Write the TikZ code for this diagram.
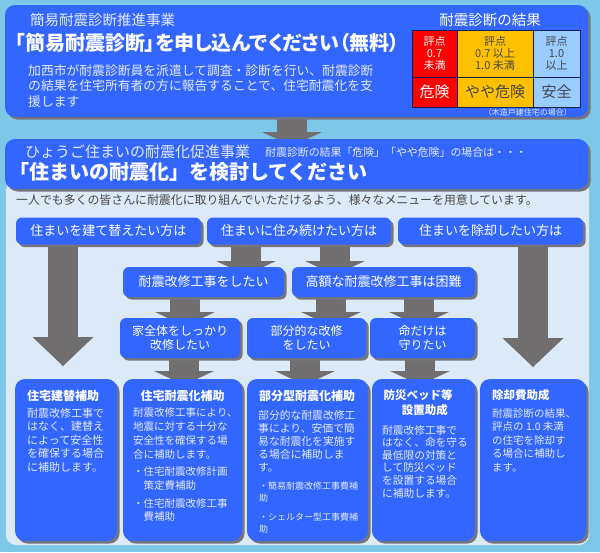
\documentclass[tikz,border=0pt]{standalone}
\usepackage{fontspec}
\setmainfont{Noto Sans CJK JP}
\usepackage{xcolor}
\usepackage{tikz}
\usetikzlibrary{arrows.meta,shadows}

\definecolor{skybg}{RGB}{125,200,232}
\definecolor{panelbg}{RGB}{220,233,246}
\definecolor{boxblue}{RGB}{51,102,255}
\definecolor{softwhite}{RGB}{228,234,255}
\definecolor{arrowgray}{RGB}{112,110,110}
\definecolor{shadegray}{RGB}{118,118,124}
\definecolor{dangerred}{RGB}{255,0,0}
\definecolor{cautionyel}{RGB}{255,192,0}
\definecolor{safeblue}{RGB}{153,204,255}
\definecolor{inktext}{RGB}{72,72,72}
\definecolor{cellline}{RGB}{20,30,80}

\newcommand{\jsize}[2]{\fontsize{#1}{#2}\selectfont}

\pgfdeclarelayer{bg}
\pgfdeclarelayer{flow}
\pgfsetlayers{bg,flow,main}

\begin{document}
\begin{tikzpicture}[x=1pt,y=-1pt,
    bluebox/.style={fill=boxblue, rounded corners=10pt, inner sep=0pt,
      drop shadow={shadow xshift=2.5pt, shadow yshift=-2.5pt, fill=shadegray, opacity=1}},
    choice/.style={bluebox, rounded corners=6pt, text=white, align=center, font=\jsize{13}{15}},
    aidbox/.style={bluebox, minimum height=162pt},
    cell/.style={draw=cellline, line width=0.8pt, inner sep=0pt, align=center},
    flowarrow/.style={draw=arrowgray, line width=30pt, -{Triangle[width=60pt, length=14pt, line width=0pt]}},
    bigarrow/.style={flowarrow, -{Triangle[width=61pt, length=29pt, line width=0pt]}},
    aidtitle/.style={text=white, inner sep=0pt, font=\bfseries\jsize{12}{15}},
    aidtext/.style={text=softwhite, inner sep=0pt, align=left, anchor=west}]

  \useasboundingbox (0,0) rectangle (600,552);

  % Backgrounds
  \begin{pgfonlayer}{bg}
    \fill[skybg] (0,0) rectangle (600,552);
    \fill[panelbg, rounded corners=10pt] (6,180) rectangle (589,545);
  \end{pgfonlayer}

  % Simple seismic diagnosis
  \node[bluebox, minimum width=583pt, minimum height=112pt] (diag) at (296.5,61) {};
  \node[anchor=west, inner sep=0pt, text=softwhite, font=\jsize{14.5}{16}] (diagtitle) at (30,20) {簡易耐震診断推進事業};
  \node[anchor=west, inner sep=0pt, text=white, font=\bfseries\jsize{20}{22}\addfontfeatures{RawFeature=+palt}] (diaghead) at (15,43) {「簡易耐震診断」を申し込んでください（無料）};
  \node[anchor=west, inner sep=0pt, text=softwhite, align=left, font=\jsize{12.8}{15.5}] (diagbody) at (28,86) {加西市が耐震診断員を派遣して調査・診断を行い、耐震診断\\の結果を住宅所有者の方に報告することで、住宅耐震化を支\\援します};

  % Result table
  \node[inner sep=0pt, text=white, font=\jsize{14.5}{16}] (restitle) at (490,20) {耐震診断の結果};
  \node[cell, fill=dangerred, text=white, minimum width=45pt, minimum height=47pt, font=\jsize{11}{12.2}] (c11) at (434.5,53.5) {評点\\0.7\\未満};
  \node[cell, fill=cautionyel, text=inktext, minimum width=76pt, minimum height=47pt, font=\jsize{11}{12.2}] (c12) at (495,53.5) {評点\\0.7 以上\\1.0 未満};
  \node[cell, fill=safeblue, text=inktext, minimum width=47pt, minimum height=47pt, font=\jsize{11}{12.2}] (c13) at (556.5,53.5) {評点\\1.0\\以上};
  \node[cell, fill=dangerred, text=white, minimum width=45pt, minimum height=30pt, font=\jsize{15}{16}] (c21) at (434.5,92) {危険};
  \node[cell, fill=cautionyel, text=inktext, minimum width=76pt, minimum height=30pt, font=\jsize{15}{16}] (c22) at (495,92) {やや危険};
  \node[cell, fill=safeblue, text=inktext, minimum width=47pt, minimum height=30pt, font=\jsize{15}{16}] (c23) at (556.5,92) {安全};
  \node[anchor=east, inner sep=0pt, text=softwhite, font=\jsize{8}{9}] (resnote) at (572,112) {（木造戸建住宅の場合）};

  % Hyogo promotion header
  \node[bluebox, minimum width=583pt, minimum height=50pt] (promo) at (296.5,164) {};
  \node[anchor=west, inner sep=0pt, text=softwhite, font=\jsize{15}{16}] (promotitle) at (25,152) {ひょうご住まいの耐震化促進事業};
  \node[anchor=west, inner sep=0pt, text=softwhite, font=\jsize{10.9}{12}] (promonote) at (265,152) {耐震診断の結果「危険」「やや危険」の場合は・・・};
  \node[anchor=west, inner sep=0pt, text=white, font=\bfseries\jsize{20}{22}] (promohead) at (9,172) {「住まいの耐震化」を検討してください};
  \node[anchor=west, inner sep=0pt, text=inktext, font=\jsize{11.9}{13}] (intro) at (16,200) {一人でも多くの皆さんに耐震化に取り組んでいただけるよう、様々なメニューを用意しています。};

  % Choices
  \node[choice, minimum width=185pt, minimum height=27pt] (rebuild) at (108.5,231) {住まいを建て替えたい方は};
  \node[choice, minimum width=184pt, minimum height=27pt] (stay) at (299,231) {住まいに住み続けたい方は};
  \node[choice, minimum width=185pt, minimum height=27pt] (demolish) at (490.5,231) {住まいを除却したい方は};

  \node[choice, minimum width=161pt, minimum height=30pt] (retrofit) at (203.5,282) {耐震改修工事をしたい};
  \node[choice, minimum width=183pt, minimum height=30pt] (costly) at (383.5,282) {高額な耐震改修工事は困難};

  \node[choice, minimum width=120pt, minimum height=40pt, font=\jsize{12}{14}] (whole) at (180,338) {家全体をしっかり\\改修したい};
  \node[choice, minimum width=119pt, minimum height=40pt, font=\jsize{12}{14}] (partial) at (306.5,338) {部分的な改修\\をしたい};
  \node[choice, minimum width=105pt, minimum height=40pt, font=\jsize{12}{14}] (life) at (422.5,338) {命だけは\\守りたい};

  % Subsidies
  \node[aidbox, minimum width=102pt] (aidrebuild) at (66,460) {};
  \node[aidtitle, anchor=west] (t1) at (27,396) {住宅建替補助};
  \node[aidtext, font=\jsize{11}{13.5}] (b1) at (27,440) {耐震改修工事で\\はなく、建替え\\によって安全性\\を確保する場合\\に補助します。};

  \node[aidbox, minimum width=119pt] (aidretro) at (182.5,460) {};
  \node[aidtitle] (t2) at (182.5,396) {住宅耐震化補助};
  \node[aidtext, font=\jsize{10.5}{13.7}] (b2) at (133,433.5) {耐震改修工事により、\\地震に対する十分な\\安全性を確保する場\\合に補助します。};
  \node[aidtext, font=\jsize{10.5}{13.5}] (b2a) at (133,478.5) {・住宅耐震改修計画\\\hspace{1em}策定費補助};
  \node[aidtext, font=\jsize{10.5}{13.5}] (b2b) at (133,510) {・住宅耐震改修工事\\\hspace{1em}費補助};

  \node[aidbox, minimum width=121pt] (aidpartial) at (307.5,460) {};
  \node[aidtitle] (t3) at (307,396) {部分型耐震化補助};
  \node[aidtext, font=\jsize{10.8}{13}] (b3) at (258,441) {部分的な耐震改修工\\事により、安価で簡\\易な耐震化を実施す\\る場合に補助しま\\す。};
  \node[aidtext, font=\jsize{9}{12}] (b3a) at (259,492.5) {・簡易耐震改修工事費補\\助};
  \node[aidtext, font=\jsize{9}{12}] (b3b) at (259,523) {・シェルター型工事費補\\助};

  \node[aidbox, minimum width=103pt] (aidbed) at (423.5,460) {};
  \node[aidtitle, align=center, font=\bfseries\jsize{11.5}{15}] (t4) at (418,402.5) {防災ベッド等\\\hspace{1.2em}設置助成};
  \node[aidtext, font=\jsize{10.7}{12.6}] (b4) at (382,461.5) {耐震改修工事で\\はなく、命を守る\\最低限の対策と\\して防災ベッド\\を設置する場合\\に補助します。};

  \node[aidbox, minimum width=106pt] (aiddemol) at (533,460) {};
  \node[aidtitle, anchor=west, font=\bfseries\jsize{11.5}{15}] (t5) at (492,395) {除却費助成};
  \node[aidtext, font=\jsize{10.5}{13.5}] (b5) at (492,440) {耐震診断の結果、\\評点の 1.0 未満\\の住宅を除却す\\る場合に補助し\\ます。};

  % Arrow tips (hidden ends)
  \coordinate (tipdiag) at (292,146);
  \coordinate (tiprebuild) at (63,366);
  \coordinate (tipdemol) at (533,367);
  \coordinate (tipretro) at (246,275);
  \coordinate (tipcostly) at (335,275);
  \coordinate (tipwhole) at (185,326);
  \coordinate (tippartial) at (331,326);
  \coordinate (tiplife) at (419,326);
  \coordinate (tipaidretro) at (184,385);
  \coordinate (tipaidpartial) at (305,385);
  \coordinate (tipaidbed) at (420,385);

  \begin{pgfonlayer}{flow}
    \draw[flowarrow] (diag.south -| tipdiag) -- (tipdiag);
    \draw[bigarrow] (rebuild.south -| tiprebuild) -- (tiprebuild);
    \draw[bigarrow] (demolish.south -| tipdemol) -- (tipdemol);
    \draw[flowarrow] (stay.south -| tipretro) -- (tipretro);
    \draw[flowarrow] (stay.south -| tipcostly) -- (tipcostly);
    \draw[flowarrow] (retrofit.south -| tipwhole) -- (tipwhole);
    \draw[flowarrow] (costly.south -| tippartial) -- (tippartial);
    \draw[flowarrow] (costly.south -| tiplife) -- (tiplife);
    \draw[flowarrow] (whole.south -| tipaidretro) -- (tipaidretro);
    \draw[flowarrow] (partial.south -| tipaidpartial) -- (tipaidpartial);
    \draw[flowarrow] (life.south -| tipaidbed) -- (tipaidbed);
  \end{pgfonlayer}
\end{tikzpicture}
\end{document}
